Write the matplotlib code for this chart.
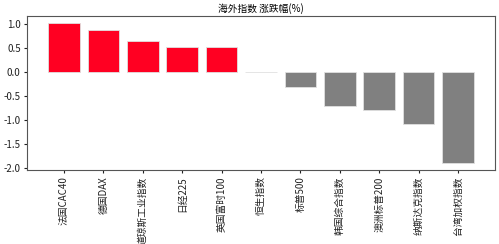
import matplotlib
matplotlib.use("Agg")
from matplotlib import pyplot as plt

plt.rcParams['font.family'] = ['Noto Sans CJK SC', 'DejaVu Sans']
plt.rcParams['axes.unicode_minus'] = False

names = ['法国CAC40', '德国DAX', '道琼斯工业指数', '日经225', '英国富时100', '恒生指数',
         '标普500', '韩国综合指数', '澳洲标普200', '纳斯达克指数', '台湾加权指数']
changes = [1.03, 0.89, 0.66, 0.53, 0.52, 0.0, -0.31, -0.71, -0.80, -1.09, -1.90]

colors = ['#ff0022' if v > 0 else '#808080' for v in changes]

figure = plt.figure(figsize=(4.99, 2.44), dpi=100)
ax = figure.add_axes([0.054, 0.303, 0.938, 0.632])
ax.bar(range(len(names)), changes, width=0.8, color=colors,
       edgecolor='#e0e0e0', linewidth=0.6)

ax.set_xticks(range(len(names)))
ax.set_xticklabels(names, rotation=90, fontsize=7)
ax.tick_params(axis='y', labelsize=7, length=2.5, pad=2, colors='#222222')
ax.tick_params(axis='x', length=2.5, pad=2, colors='#222222')
for s in ax.spines.values():
    s.set_color('#555555')
    s.set_linewidth(0.8)
ax.set_title('海外指数 涨跌幅(%)', fontsize=7, pad=3)

figure.savefig('out.png', dpi=100)
